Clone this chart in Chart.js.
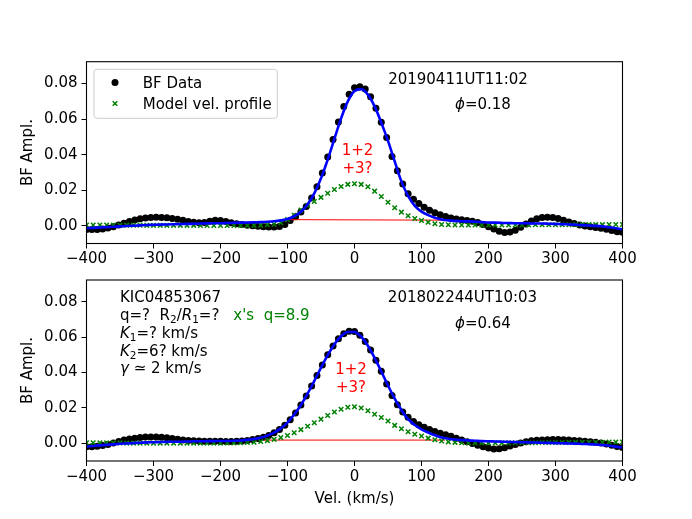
<!DOCTYPE html>
<html>
<head>
<meta charset="utf-8">
<script src="https://cdn.jsdelivr.net/npm/chart.js@4.4.0/dist/chart.umd.min.js"></script>
<style>
  html, body { margin: 0; padding: 0; background: #fff; }
  #wrap { position: relative; width: 692px; height: 519px; }
  canvas { position: absolute; left: 0; top: 0; }
</style>
</head>
<body>
<div id="wrap">
  <canvas id="top-chart" width="692" height="519"></canvas>
  <canvas id="bottom-chart" width="692" height="519"></canvas>
</div>
<script>
// velocity grids (km/s)
const VEL_DATA = [
  -400,-392,-384,-376,-368,-360,-352,-344,-336,-328,
  -320,-312,-304,-296,-288,-280,-272,-264,-256,-248,
  -240,-232,-224,-216,-208,-200,-192,-184,-176,-168,
  -160,-152,-144,-136,-128,-120,-112,-104,-96,-88,
  -80,-72,-64,-56,-48,-40,-32,-24,-16,-8,
  0,8,16,24,32,40,48,56,64,72,
  80,88,96,104,112,120,128,136,144,152,
  160,168,176,184,192,200,208,216,224,232,
  240,248,256,264,272,280,288,296,304,312,
  320,328,336,344,352,360,368,376,384,392,
  400
];
const VEL_MODEL = [
  -400,-390,-380,-370,-360,-350,-340,-330,-320,-310,
  -300,-290,-280,-270,-260,-250,-240,-230,-220,-210,
  -200,-190,-180,-170,-160,-150,-140,-130,-120,-110,
  -100,-90,-80,-70,-60,-50,-40,-30,-20,-10,
  0,10,20,30,40,50,60,70,80,90,
  100,110,120,130,140,150,160,170,180,190,
  200,210,220,230,240,250,260,270,280,290,
  300,310,320,330,340,350,360,370,380,390,
  400
];

// top panel: 20190411UT11:02
const TOP_BF = [
  -0.0020,-0.0021,-0.0020,-0.0018,-0.0012,-0.0005,0.0005,0.0015,0.0025,0.0033,
  0.0040,0.0044,0.0047,0.0048,0.0047,0.0045,0.0042,0.0037,0.0031,0.0025,
  0.0020,0.0017,0.0019,0.0026,0.0031,0.0030,0.0025,0.0018,0.0012,0.0008,
  0.0004,0.0001,-0.0002,-0.0005,-0.0007,-0.0007,-0.0003,0.0008,0.0030,0.0051,
  0.0078,0.0109,0.0157,0.0220,0.0297,0.0387,0.0485,0.0583,0.0670,0.0739,
  0.0775,0.0782,0.0769,0.0725,0.0661,0.0582,0.0496,0.0390,0.0310,0.0235,
  0.0180,0.0150,0.0125,0.0105,0.0088,0.0074,0.0062,0.0052,0.0044,0.0038,
  0.0034,0.0030,0.0026,0.0019,0.0008,-0.0005,-0.0018,-0.0030,-0.0037,-0.0035,
  -0.0025,-0.0008,0.0010,0.0027,0.0040,0.0047,0.0049,0.0047,0.0041,0.0032,
  0.0022,0.0013,0.0005,-0.0001,-0.0005,-0.0009,-0.0013,-0.0019,-0.0026,-0.0033,
  -0.0036
];
const TOP_MODEL = [
  0.0005,0.0005,0.0005,0.0005,0.0004,0.0004,0.0004,0.0004,0.0004,0.0003,
  0.0003,0.0003,0.0003,0.0003,0.0003,0.0003,0.0003,0.0002,0.0002,0.0002,
  0.0002,0.0002,0.0002,0.0002,0.0002,0.0003,0.0004,0.0006,0.0009,0.0018,
  0.0035,0.0060,0.0089,0.0115,0.0137,0.0160,0.0183,0.0204,0.0221,0.0233,
  0.0237,0.0233,0.0220,0.0195,0.0165,0.0133,0.0102,0.0077,0.0057,0.0041,
  0.0030,0.0020,0.0012,0.0008,0.0006,0.0005,0.0005,0.0005,0.0005,0.0005,
  0.0005,0.0005,0.0005,0.0005,0.0005,0.0005,0.0005,0.0006,0.0006,0.0006,
  0.0006,0.0006,0.0006,0.0007,0.0007,0.0007,0.0007,0.0007,0.0008,0.0008,
  0.0008
];
const TOP_FIT = [
  -0.0013,-0.0011,-0.0009,-0.0007,-0.0005,-0.0003,-0.0001,0.0001,0.0003,0.0005,
  0.0006,0.0007,0.0008,0.0009,0.0010,0.0011,0.0012,0.0013,0.0014,0.0015,
  0.0015,0.0016,0.0017,0.0018,0.0019,0.0020,0.0021,0.0023,0.0026,0.0031,
  0.0038,0.0054,0.0079,0.0121,0.0182,0.0267,0.0372,0.0489,0.0604,0.0699,
  0.0757,0.0768,0.0737,0.0671,0.0580,0.0477,0.0362,0.0250,0.0168,0.0112,
  0.0080,0.0060,0.0046,0.0036,0.0031,0.0028,0.0026,0.0025,0.0023,0.0021,
  0.0019,0.0018,0.0017,0.0016,0.0015,0.0015,0.0014,0.0013,0.0013,0.0012,
  0.0011,0.0010,0.0008,0.0006,0.0004,0.0002,0.0000,-0.0003,-0.0008,-0.0013,
  -0.0020
];
const TOP_THIRD_VEL = [-105, 140];
const TOP_THIRD = [0.0035, 0.0032];

// bottom panel: 201802244UT10:03
const BOT_BF = [
  -0.0019,-0.0018,-0.0016,-0.0012,-0.0006,0.0003,0.0011,0.0019,0.0025,0.0030,
  0.0034,0.0036,0.0037,0.0037,0.0035,0.0032,0.0028,0.0024,0.0020,0.0017,
  0.0015,0.0014,0.0013,0.0013,0.0012,0.0012,0.0011,0.0011,0.0012,0.0014,
  0.0017,0.0022,0.0028,0.0035,0.0045,0.0060,0.0079,0.0103,0.0134,0.0172,
  0.0217,0.0268,0.0324,0.0383,0.0443,0.0500,0.0550,0.0591,0.0619,0.0633,
  0.0631,0.0611,0.0575,0.0527,0.0469,0.0407,0.0335,0.0270,0.0218,0.0178,
  0.0148,0.0124,0.0106,0.0091,0.0078,0.0068,0.0058,0.0049,0.0040,0.0030,
  0.0020,0.0010,0.0000,-0.0010,-0.0019,-0.0026,-0.0031,-0.0030,-0.0024,-0.0015,
  -0.0006,0.0003,0.0010,0.0015,0.0018,0.0020,0.0021,0.0022,0.0022,0.0021,
  0.0019,0.0017,0.0015,0.0013,0.0010,0.0007,0.0003,-0.0003,-0.0010,-0.0017,
  -0.0023
];
const BOT_MODEL = [
  0.0004,0.0004,0.0003,0.0003,0.0003,0.0003,0.0002,0.0002,0.0002,0.0002,
  0.0002,0.0002,0.0002,0.0002,0.0002,0.0002,0.0002,0.0002,0.0002,0.0002,
  0.0002,0.0003,0.0003,0.0004,0.0005,0.0007,0.0011,0.0016,0.0023,0.0033,
  0.0045,0.0060,0.0078,0.0097,0.0117,0.0137,0.0158,0.0177,0.0193,0.0204,
  0.0207,0.0200,0.0184,0.0165,0.0146,0.0127,0.0102,0.0083,0.0066,0.0052,
  0.0042,0.0030,0.0021,0.0014,0.0009,0.0006,0.0004,0.0003,0.0003,0.0003,
  0.0003,0.0003,0.0003,0.0003,0.0004,0.0004,0.0004,0.0004,0.0005,0.0005,
  0.0005,0.0005,0.0006,0.0006,0.0006,0.0007,0.0007,0.0007,0.0008,0.0008,
  0.0008
];
const BOT_FIT = [
  -0.0017,-0.0014,-0.0011,-0.0008,-0.0005,-0.0002,0.0000,0.0002,0.0004,0.0006,
  0.0007,0.0008,0.0009,0.0010,0.0010,0.0011,0.0012,0.0012,0.0013,0.0013,
  0.0014,0.0014,0.0015,0.0017,0.0020,0.0025,0.0032,0.0044,0.0061,0.0085,
  0.0118,0.0163,0.0217,0.0281,0.0353,0.0427,0.0498,0.0560,0.0605,0.0629,
  0.0629,0.0602,0.0551,0.0483,0.0406,0.0327,0.0253,0.0189,0.0137,0.0104,
  0.0080,0.0062,0.0046,0.0034,0.0027,0.0022,0.0019,0.0017,0.0015,0.0013,
  0.0012,0.0011,0.0010,0.0009,0.0008,0.0007,0.0006,0.0005,0.0004,0.0003,
  0.0002,0.0001,0.0000,-0.0001,-0.0003,-0.0004,-0.0006,-0.0009,-0.0013,-0.0018,
  -0.0023
];
const BOT_THIRD_VEL = [-135, 135];
const BOT_THIRD = [0.0019, 0.0019];

const X_TICKS = [-400, -300, -200, -100, 0, 100, 200, 300, 400];
const Y_TICKS = [0, 0.02, 0.04, 0.06, 0.08];

const FONT = '"DejaVu Sans", sans-serif';
const zip = (xs, ys) => xs.map((x, i) => ({ x: x, y: ys[i] }));

// draw a line of mixed text: parts are [text, style] with style '', 'i', 'sub', 'isub'
function drawRich(ctx, x, cy, parts, align, color) {
  const fontFor = s => (s.indexOf('i') === 0 ? 'italic ' : '') + (s.indexOf('sub') >= 0 ? 10.5 : 15) + 'px ' + FONT;
  let w = 0;
  parts.forEach(([t, s]) => { ctx.font = fontFor(s || ''); w += ctx.measureText(t).width; });
  let cx = align === 'center' ? x - w / 2 : x;
  ctx.fillStyle = color || '#000';
  ctx.textAlign = 'left';
  ctx.textBaseline = 'alphabetic';
  parts.forEach(([t, s]) => {
    s = s || '';
    ctx.font = fontFor(s);
    ctx.fillText(t, cx, cy + 5.5 + (s.indexOf('sub') >= 0 ? 3 : 0));
    cx += ctx.measureText(t).width;
  });
}

const deco = {
  id: 'deco',
  afterDraw(chart, args, opts) {
    const ctx = chart.ctx;
    const a = chart.chartArea;
    ctx.save();
    ctx.strokeStyle = '#000';
    ctx.lineWidth = 1.1;
    ctx.strokeRect(a.left, a.top, a.right - a.left, a.bottom - a.top);

    if (opts.legend) {
      ctx.beginPath();
      ctx.roundRect(94, 69.3, 183.3, 49, 3);
      ctx.fillStyle = 'rgba(255,255,255,0.8)';
      ctx.fill();
      ctx.strokeStyle = '#cccccc';
      ctx.lineWidth = 1;
      ctx.stroke();
      ctx.beginPath();
      ctx.arc(115, 82.5, 3.5, 0, Math.PI * 2);
      ctx.fillStyle = '#000';
      ctx.fill();
      ctx.beginPath();
      ctx.moveTo(112.7, 101.2); ctx.lineTo(117.3, 105.8);
      ctx.moveTo(112.7, 105.8); ctx.lineTo(117.3, 101.2);
      ctx.strokeStyle = '#008000';
      ctx.lineWidth = 1.5;
      ctx.stroke();
      drawRich(ctx, 142.7, 82.5, [['BF Data']], 'left');
      drawRich(ctx, 142.7, 103.5, [['Model vel. profile']], 'left');
    }

    (opts.notes || []).forEach(n => drawRich(ctx, n.x, n.y, n.parts, n.align, n.color));

    // y axis title
    ctx.save();
    ctx.translate(28, (a.top + a.bottom) / 2);
    ctx.rotate(-Math.PI / 2);
    ctx.font = '15px ' + FONT;
    ctx.fillStyle = '#000';
    ctx.textAlign = 'center';
    ctx.textBaseline = 'middle';
    ctx.fillText('BF Ampl.', 0, 0);
    ctx.restore();

    if (opts.xTitle) {
      drawRich(ctx, (a.left + a.right) / 2, 497, [[opts.xTitle]], 'center');
    }
    ctx.restore();
  }
};

function makeChart(id, bf, model, fit, thirdVel, third, top, bottom, decoOpts) {
  return new Chart(document.getElementById(id), {
    type: 'scatter',
    data: {
      datasets: [
        { label: 'fit', data: zip(VEL_MODEL, fit), showLine: true, borderColor: '#0000ff',
          borderWidth: 2.6, pointRadius: 0, cubicInterpolationMode: 'monotone', clip: 0 },
        { label: 'Model vel. profile', data: zip(VEL_MODEL, model), pointStyle: 'crossRot',
          pointRadius: 3.2, borderColor: '#008000', backgroundColor: '#008000', borderWidth: 1.5, clip: 0 },
        { label: 'third', data: zip(thirdVel, third), showLine: true, borderColor: '#ff0000',
          borderWidth: 1, pointRadius: 0, clip: 0 },
        { label: 'BF Data', data: zip(VEL_DATA, bf), pointStyle: 'circle', pointRadius: 3.5,
          backgroundColor: '#000', borderColor: '#000', borderWidth: 0, clip: 0 }
      ]
    },
    options: {
      responsive: false,
      animation: false,
      events: [],
      layout: { padding: { left: 0, right: 692 - 622.5, top: top, bottom: 519 - bottom - 30 } },
      plugins: { legend: { display: false }, tooltip: { enabled: false }, deco: decoOpts },
      scales: {
        x: {
          type: 'linear', min: -400, max: 400,
          afterBuildTicks: s => { s.ticks = X_TICKS.map(v => ({ value: v })); },
          afterFit: s => { s.height = 30; },
          border: { display: false },
          grid: { drawOnChartArea: false, drawTicks: true, tickLength: 5, color: '#000', lineWidth: 1 },
          ticks: { color: '#000', font: { family: FONT, size: 15 }, padding: 2, maxRotation: 0,
                   callback: v => String(v).replace('-', '\u2212') }
        },
        y: {
          type: 'linear', min: -0.0099, max: 0.0922,
          afterBuildTicks: s => { s.ticks = Y_TICKS.map(v => ({ value: v })); },
          afterFit: s => { s.width = 86.5; },
          border: { display: false },
          grid: { drawOnChartArea: false, drawTicks: true, tickLength: 5, color: '#000', lineWidth: 1 },
          ticks: { color: '#000', font: { family: FONT, size: 15 }, padding: 4,
                   callback: v => v.toFixed(2) }
        }
      }
    },
    plugins: [deco]
  });
}

makeChart('top-chart', TOP_BF, TOP_MODEL, TOP_FIT, TOP_THIRD_VEL, TOP_THIRD, 61.7, 243.5, {
  legend: true,
  notes: [
    { x: 458, y: 78.3, align: 'center', parts: [['20190411UT11:02']] },
    { x: 455, y: 103.3, align: 'left', parts: [['\u03D5', 'i'], ['=0.18']] },
    { x: 357.5, y: 149.3, align: 'center', color: '#ff0000', parts: [['1+2']] },
    { x: 357.5, y: 167.3, align: 'center', color: '#ff0000', parts: [['+3?']] }
  ]
});

makeChart('bottom-chart', BOT_BF, BOT_MODEL, BOT_FIT, BOT_THIRD_VEL, BOT_THIRD, 280, 461, {
  legend: false,
  xTitle: 'Vel. (km/s)',
  notes: [
    { x: 120, y: 296.7, align: 'left', parts: [['KIC04853067']] },
    { x: 120, y: 314.3, align: 'left', parts: [['q=?  R'], ['2', 'sub'], ['/'], ['R', 'i'], ['1', 'sub'], ['=?']] },
    { x: 233.3, y: 314.3, align: 'left', color: '#008000', parts: [["x's  q=8.9"]] },
    { x: 120, y: 332.3, align: 'left', parts: [['K', 'i'], ['1', 'sub'], ['=? km/s']] },
    { x: 120, y: 350, align: 'left', parts: [['K', 'i'], ['2', 'sub'], ['=6? km/s']] },
    { x: 120, y: 367.7, align: 'left', parts: [['\u03B3', 'i'], [' \u2243 2 km/s']] },
    { x: 462.5, y: 296.7, align: 'center', parts: [['201802244UT10:03']] },
    { x: 455, y: 322.7, align: 'left', parts: [['\u03D5', 'i'], ['=0.64']] },
    { x: 351, y: 368.3, align: 'center', color: '#ff0000', parts: [['1+2']] },
    { x: 351, y: 386, align: 'center', color: '#ff0000', parts: [['+3?']] }
  ]
});
</script>
</body>
</html>
